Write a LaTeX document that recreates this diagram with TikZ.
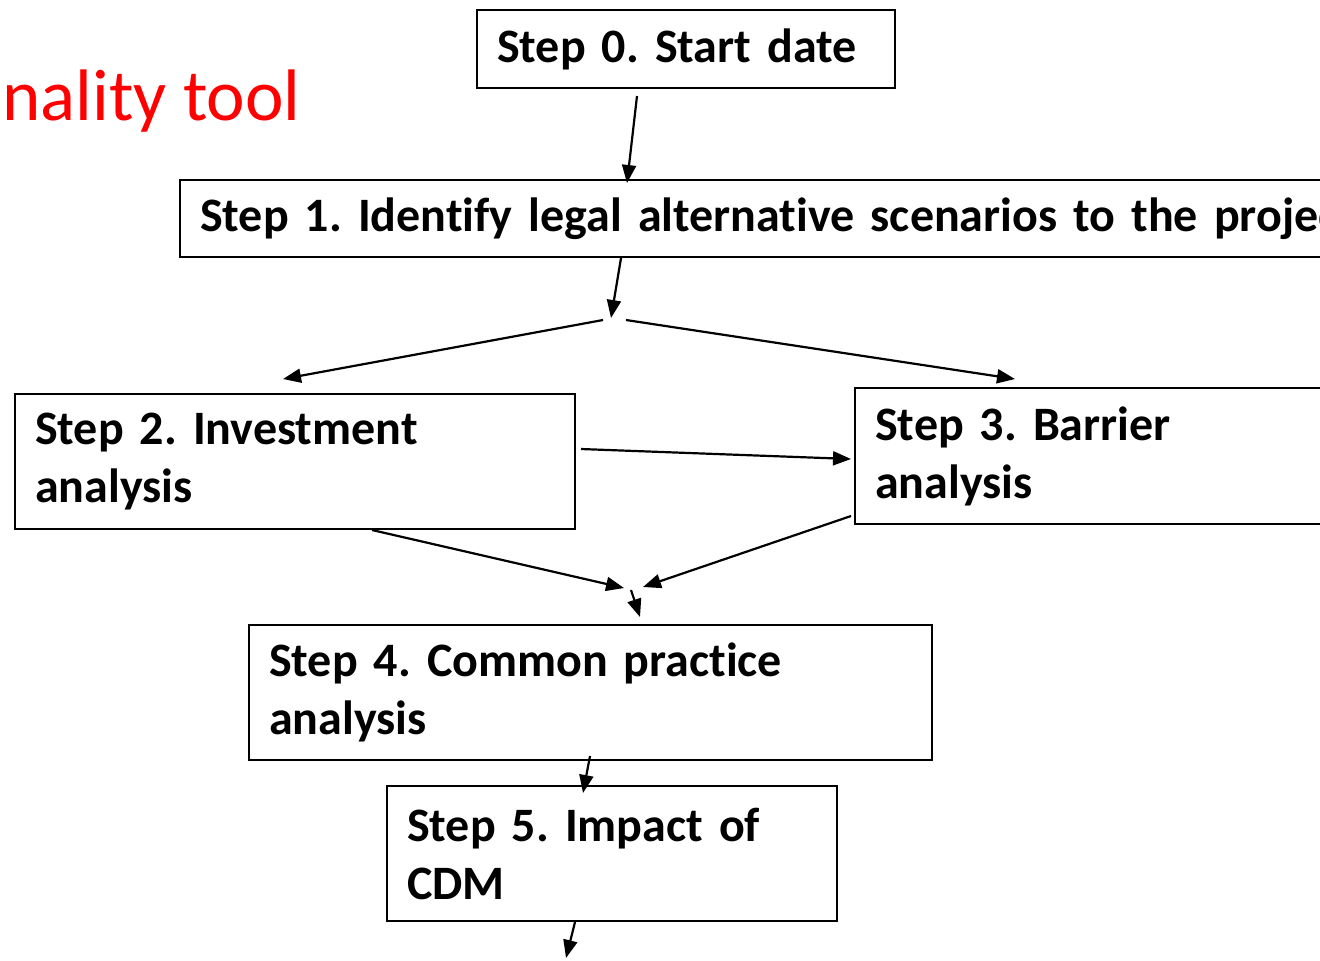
\documentclass[tikz,border=0pt]{standalone}
\usepackage{fontspec}
\setmainfont[Ligatures=NoCommon]{Carlito}
\newfontfamily\stepfam[Ligatures=NoCommon,WordSpace=0.4]{Carlito}
\usetikzlibrary{arrows.meta}

\newcommand\stepfont{\stepfam\bfseries\fontsize{24}{29}\selectfont\frenchspacing}

\begin{document}
\begin{tikzpicture}[
    x=0.5pt, y=-0.5pt,
    stepbox/.style={draw, line width=1.2pt, anchor=north west,
        inner xsep=10pt, inner ysep=0pt, font=\stepfont},
    arr/.style={-{Triangle[length=9pt,width=7pt]}, line width=1.1pt},
]
    \path[use as bounding box, clip] (0,0) rectangle (1320,960);

    % title, cut off at the left
    \node[text=red, anchor=base east, inner sep=0pt,
        font=\fontsize{36.5}{44}\selectfont] (title) at (301,120) {nality tool};

    % steps
    \node[stepbox, text width=189pt, minimum height=39pt] (s0) at (476,9) {Step 0. Start date};
    \node[stepbox, text width=580pt, minimum height=38.5pt] (s1) at (179,179)
        {Step 1. Identify legal alternative scenarios to the project};
    \node[stepbox, text width=260pt, minimum height=67.5pt] (s2) at (14,393)
        {Step 2. Investment\\analysis};
    \node[stepbox, text width=270pt, minimum height=68pt] (s3) at (854,387)
        {Step 3. Barrier\\analysis};
    \node[stepbox, text width=321.5pt, minimum height=67.5pt] (s4) at (248,624)
        {Step 4. Common practice\\analysis};
    \node[stepbox, text width=205pt, minimum height=67.5pt] (s5) at (386,785)
        {Step 5. Impact of\\CDM};

    % arrow ends
    \coordinate (a0) at (637,96);
    \coordinate (a1) at (627,183);
    \coordinate (b0) at (621,258);
    \coordinate (b1) at (611,318);
    \coordinate (sl) at (603,320);
    \coordinate (sr) at (626,320);
    \coordinate (c2) at (283,379);
    \coordinate (c3) at (1015,379);
    \coordinate (d0) at (581,449);
    \coordinate (d1) at (851,459);
    \coordinate (e2) at (372,530);
    \coordinate (e3) at (851,516);
    \coordinate (m2) at (624,588);
    \coordinate (m3) at (643,587);
    \coordinate (f0) at (631,590);
    \coordinate (f1) at (640,617);
    \coordinate (g0) at (590,756);
    \coordinate (g1) at (583,793);
    \coordinate (h0) at (575,922);
    \coordinate (h1) at (566,958);

    \draw[arr] (a0) -- (a1);
    \draw[arr] (b0) -- (b1);
    \draw[arr] (sl) -- (c2);
    \draw[arr] (sr) -- (c3);
    \draw[arr] (d0) -- (d1);
    \draw[arr] (e2) -- (m2);
    \draw[arr] (e3) -- (m3);
    \draw[arr] (f0) -- (f1);
    \draw[arr] (g0) -- (g1);
    \draw[arr] (h0) -- (h1);
\end{tikzpicture}
\end{document}
